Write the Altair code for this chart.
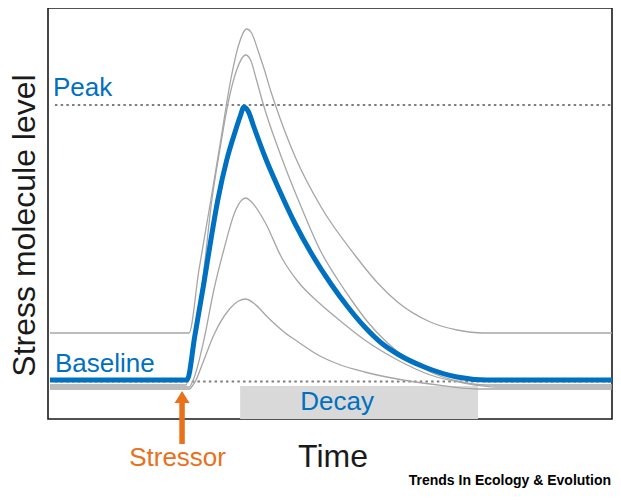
import altair as alt
import pandas as pd

# ---- data (time units, level units; arbitrary conceptual scale) ----
blue_t = [0, 138, 146, 155, 162, 169, 178, 187, 192, 195, 200, 205, 217, 230, 247, 263, 283, 300, 317, 335, 350, 377, 410, 440, 566]
blue_L = [39, 39, 84, 136, 179, 219, 259, 289, 304, 312, 307, 293, 261, 231, 195, 166, 135, 112, 92, 75, 65, 52, 42, 39, 39]

g1_t = [0, 140, 150, 162, 172, 182, 190, 198, 203, 210, 216, 222, 227, 247, 273, 307, 330, 350, 383, 410, 437, 566]
g1_L = [86, 86, 149, 219, 279, 339, 374, 390, 386, 367, 349, 329, 314, 262, 212, 164, 136, 117, 97, 89, 86, 86]

g2_t = [0, 137, 142, 147, 155, 163, 171, 180, 188, 197, 202, 208, 215, 233, 253, 273, 290, 305, 320, 340, 360, 383, 410, 440, 566]
g2_L = [34, 34, 59, 89, 149, 219, 269, 319, 349, 364, 359, 339, 314, 262, 212, 167, 139, 117, 97, 76, 60, 47, 38, 34, 34]

g3_t = [0, 140, 145, 155, 165, 175, 187, 197, 203, 217, 233, 250, 270, 290, 317, 350, 383, 417, 450, 566]
g3_L = [32, 32, 41, 79, 129, 169, 209, 221, 217, 196, 162, 137, 117, 100, 79, 59, 44, 36, 32, 32]

g4_t = [0, 140, 147, 155, 165, 180, 190, 197, 205, 220, 237, 250, 270, 290, 317, 350, 383, 430, 566]
g4_L = [30, 30, 39, 59, 84, 109, 118, 120, 116, 101, 86, 77, 64, 55, 47, 40, 35, 30, 30]

peak_level = 314
baseline_level = 37.5
ref_start, ref_end = 5, 565
decay_start, decay_end, decay_top = 191.5, 431, 33
stressor_time = 133
arrow_bottom, arrow_top, arrow_head = -25, 16, 22

labels_blue = ["Peak", "Baseline", "Decay"]
labels_blue_t = [3, 5, 252]
labels_blue_L = [323, 47, 9]

T_MIN, T_MAX, L_MAX = -2, 566, 411

# ---- tables ----
gray = pd.concat([
    pd.DataFrame({"t": g1_t, "L": g1_L, "curve": "g1"}),
    pd.DataFrame({"t": g2_t, "L": g2_L, "curve": "g2"}),
    pd.DataFrame({"t": g3_t, "L": g3_L, "curve": "g3"}),
    pd.DataFrame({"t": g4_t, "L": g4_L, "curve": "g4"}),
], ignore_index=True)
blue = pd.DataFrame({"t": blue_t, "L": blue_L})
refs = pd.DataFrame({"t": [ref_start, ref_start], "t2": [ref_end, ref_end],
                     "L": [peak_level, baseline_level]})
decay = pd.DataFrame({"t": [decay_start], "t2": [decay_end], "L": [0], "L2": [decay_top]})
arrow = pd.DataFrame({"t": [stressor_time], "L": [arrow_bottom], "L2": [arrow_top], "Lh": [arrow_head]})
blue_lab = pd.DataFrame({"text": labels_blue, "t": labels_blue_t, "L": labels_blue_L})

xs = alt.Scale(domain=[T_MIN, T_MAX], nice=False, zero=False)
ys = alt.Scale(domain=[0, L_MAX], nice=False, zero=False)
X = alt.X("t:Q", scale=xs, axis=None)
Y = alt.Y("L:Q", scale=ys, axis=None)

BLUE = "#0070C0"
ORANGE = "#E8711A"
FONT = "Liberation Sans"

rect = alt.Chart(decay).mark_rect(color="#D9D9D9").encode(
    x=X, x2="t2:Q", y=Y, y2="L2:Q")

ref_rules = alt.Chart(refs).mark_rule(color="#7F7F7F", strokeWidth=2, strokeDash=[2.5, 3.2]).encode(
    x=X, x2="t2:Q", y=Y)

gray_lines = alt.Chart(gray).mark_line(color="#A6A6A6", strokeWidth=1.3, interpolate="monotone").encode(
    x=X, y=Y, detail="curve:N")

blue_line = alt.Chart(blue).mark_line(color=BLUE, strokeWidth=5, interpolate="monotone").encode(
    x=X, y=Y)

blue_text = alt.Chart(blue_lab).mark_text(color=BLUE, font=FONT, fontSize=26, align="left",
                                          baseline="alphabetic").encode(x=X, y=Y, text="text:N")

shaft = alt.Chart(arrow).mark_rule(color=ORANGE, strokeWidth=5.5).encode(x=X, y=Y, y2="L2:Q")
head = alt.Chart(arrow).mark_point(shape="M-1,0.8L1,0.8L0,-0.8Z", size=225, filled=True,
                                   color=ORANGE, opacity=1).encode(
    x=X, y=alt.Y("Lh:Q", scale=ys, axis=None))

stressor = alt.Chart(pd.DataFrame({"text": ["Stressor"], "t": [128.5], "L": [-47]})).mark_text(
    color=ORANGE, font=FONT, fontSize=26, align="center", baseline="alphabetic").encode(
    x=X, y=Y, text="text:N")

time_title = alt.Chart(pd.DataFrame({"text": ["Time"], "t": [285], "L": [-48]})).mark_text(
    color="#1a1a1a", font=FONT, fontSize=32, align="center", baseline="alphabetic").encode(
    x=X, y=Y, text="text:N")

y_title = alt.Chart(pd.DataFrame({"text": ["Stress molecule level"], "t": [-25.5], "L": [193.5]})).mark_text(
    color="#1a1a1a", font=FONT, fontSize=32, align="center", baseline="middle", angle=270).encode(
    x=X, y=Y, text="text:N")

credit = alt.Chart(pd.DataFrame({"text": ["Trends In Ecology & Evolution"], "t": [565], "L": [-66]})).mark_text(
    color="#000000", font=FONT, fontSize=14, fontWeight="bold", align="right", baseline="alphabetic").encode(
    x=X, y=Y, text="text:N")

chart = alt.layer(
    rect, ref_rules, gray_lines, blue_line, blue_text, shaft, head, stressor, time_title, y_title, credit
).properties(
    width=564, height=411,
    autosize=alt.AutoSizeParams(type="none"),
    padding={"left": 40, "top": 0, "right": 1, "bottom": 69},
    background="white",
).configure_view(stroke="#1a1a1a", strokeWidth=1.6)

chart.save("out.html", embed_options={"renderer": "svg", "actions": False})
